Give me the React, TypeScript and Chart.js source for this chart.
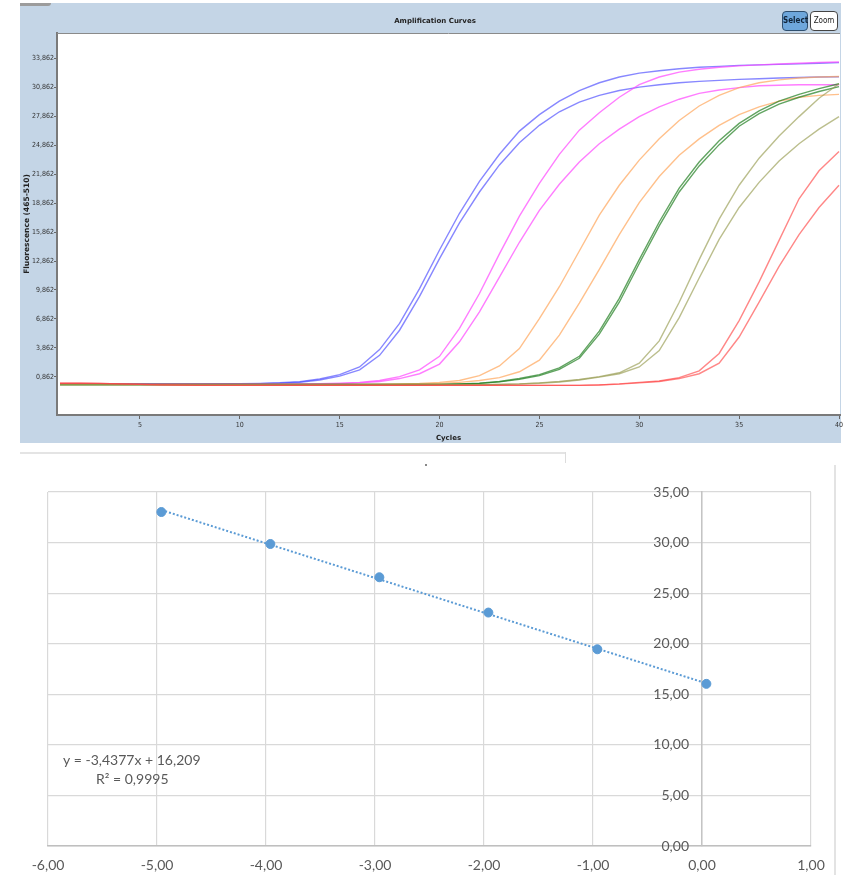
import React, { useEffect, useRef } from 'react';
import { Chart, registerables } from 'chart.js';

Chart.register(...registerables);

// ---------- Amplification curves (top) ----------
const cycles = [1, 2, 3, 4, 5, 6, 7, 8, 9, 10, 11, 12, 13, 14, 15, 16, 17, 18, 19, 20, 21, 22, 23, 24, 25, 26, 27, 28, 29, 30, 31, 32, 33, 34, 35, 36, 37, 38, 39, 40];
const cycleTicks = [5, 10, 15, 20, 25, 30, 35, 40];
const fluoTicks = [0.862, 3.862, 6.862, 9.862, 12.862, 15.862, 18.862, 21.862, 24.862, 27.862, 30.862, 33.862];
const fluoTickLabels = ['0,862', '3,862', '6,862', '9,862', '12,862', '15,862', '18,862', '21,862', '24,862', '27,862', '30,862', '33,862'];

const blue1 = [0.15, 0.15, 0.15, 0.15, 0.15, 0.15, 0.15, 0.15, 0.16, 0.17, 0.2, 0.26, 0.37, 0.65, 1.1, 1.9, 3.7, 6.4, 10.0, 14.0, 17.8, 21.1, 23.9, 26.3, 28.0, 29.4, 30.5, 31.3, 31.9, 32.3, 32.55, 32.75, 32.9, 33.0, 33.1, 33.15, 33.2, 33.26, 33.32, 33.38];
const blue2 = [0.14, 0.14, 0.14, 0.14, 0.14, 0.14, 0.14, 0.14, 0.15, 0.16, 0.18, 0.23, 0.32, 0.55, 0.95, 1.6, 3.1, 5.7, 9.2, 13.1, 16.8, 20.0, 22.8, 25.1, 26.9, 28.3, 29.3, 30.0, 30.5, 30.85, 31.1, 31.3, 31.45, 31.55, 31.65, 31.72, 31.8, 31.85, 31.9, 31.93];
const magenta1 = [0.12, 0.12, 0.12, 0.12, 0.12, 0.12, 0.12, 0.12, 0.12, 0.12, 0.12, 0.12, 0.14, 0.17, 0.22, 0.3, 0.5, 0.9, 1.6, 3.0, 5.9, 9.5, 13.6, 17.5, 20.9, 23.9, 26.4, 28.2, 29.8, 31.1, 31.9, 32.4, 32.7, 32.9, 33.05, 33.15, 33.25, 33.32, 33.4, 33.45];
const magenta2 = [0.12, 0.12, 0.12, 0.12, 0.12, 0.12, 0.12, 0.12, 0.12, 0.12, 0.12, 0.12, 0.12, 0.14, 0.18, 0.25, 0.4, 0.7, 1.2, 2.2, 4.5, 7.6, 11.2, 14.8, 18.1, 20.8, 23.1, 25.0, 26.5, 27.8, 28.8, 29.6, 30.2, 30.55, 30.8, 31.0, 31.05, 31.1, 31.1, 31.1];
const orange1 = [0.1, 0.1, 0.1, 0.1, 0.1, 0.1, 0.1, 0.1, 0.1, 0.1, 0.1, 0.1, 0.1, 0.1, 0.1, 0.1, 0.12, 0.15, 0.2, 0.3, 0.5, 1.0, 2.0, 3.8, 6.9, 10.2, 13.9, 17.6, 20.7, 23.3, 25.5, 27.4, 28.9, 30.0, 30.8, 31.3, 31.6, 31.8, 31.9, 31.95];
const orange2 = [0.1, 0.1, 0.1, 0.1, 0.1, 0.1, 0.1, 0.1, 0.1, 0.1, 0.1, 0.1, 0.1, 0.1, 0.1, 0.1, 0.1, 0.12, 0.15, 0.2, 0.3, 0.5, 0.8, 1.4, 2.6, 5.2, 8.5, 12.0, 15.6, 18.9, 21.6, 23.8, 25.5, 26.9, 28.0, 28.8, 29.4, 29.8, 30.0, 30.1];
const green1 = [0.08, 0.08, 0.08, 0.08, 0.08, 0.08, 0.08, 0.08, 0.08, 0.08, 0.08, 0.08, 0.08, 0.08, 0.08, 0.08, 0.08, 0.08, 0.08, 0.1, 0.14, 0.22, 0.4, 0.7, 1.1, 1.8, 3.0, 5.6, 9.0, 13.0, 16.9, 20.4, 23.1, 25.3, 27.1, 28.4, 29.4, 30.1, 30.7, 31.2];
const green2 = [0.08, 0.08, 0.08, 0.08, 0.08, 0.08, 0.08, 0.08, 0.08, 0.08, 0.08, 0.08, 0.08, 0.08, 0.08, 0.08, 0.08, 0.08, 0.08, 0.1, 0.13, 0.2, 0.36, 0.62, 1.0, 1.65, 2.8, 5.3, 8.6, 12.6, 16.5, 20.0, 22.7, 24.9, 26.8, 28.1, 29.1, 29.8, 30.4, 30.9];
const olive1 = [0.06, 0.06, 0.06, 0.06, 0.06, 0.06, 0.06, 0.06, 0.06, 0.06, 0.06, 0.06, 0.06, 0.06, 0.06, 0.06, 0.06, 0.06, 0.06, 0.06, 0.06, 0.06, 0.1, 0.15, 0.25, 0.4, 0.6, 0.9, 1.3, 2.3, 4.6, 8.6, 13.0, 17.2, 20.7, 23.5, 25.8, 27.8, 29.7, 31.2];
const olive2 = [0.06, 0.06, 0.06, 0.06, 0.06, 0.06, 0.06, 0.06, 0.06, 0.06, 0.06, 0.06, 0.06, 0.06, 0.06, 0.06, 0.06, 0.06, 0.06, 0.06, 0.06, 0.06, 0.09, 0.13, 0.22, 0.35, 0.55, 0.85, 1.2, 1.9, 3.6, 7.0, 11.1, 15.1, 18.4, 21.0, 23.2, 25.0, 26.5, 27.8];
const red1 = [0.22, 0.22, 0.2, 0.15, 0.1, 0.05, 0.02, 0.0, 0.0, 0.0, 0.0, 0.0, 0.0, 0.0, 0.0, 0.0, 0.0, 0.0, 0.0, 0.0, 0.0, 0.0, 0.0, 0.0, 0.0, 0.0, 0.0, 0.05, 0.15, 0.3, 0.45, 0.8, 1.5, 3.3, 6.7, 10.7, 15.0, 19.3, 22.2, 24.2];
const red2 = [0.22, 0.22, 0.2, 0.15, 0.1, 0.05, 0.02, 0.0, 0.0, 0.0, 0.0, 0.0, 0.0, 0.0, 0.0, 0.0, 0.0, 0.0, 0.0, 0.0, 0.0, 0.0, 0.0, 0.0, 0.0, 0.0, 0.0, 0.04, 0.12, 0.25, 0.4, 0.7, 1.2, 2.3, 5.0, 8.6, 12.3, 15.6, 18.4, 20.7];

const curveNames = ['Blue 1', 'Blue 2', 'Magenta 1', 'Magenta 2', 'Orange 1', 'Orange 2', 'Green 1', 'Green 2', 'Olive 1', 'Olive 2', 'Red 1', 'Red 2'];
const curveValues = [blue1, blue2, magenta1, magenta2, orange1, orange2, green1, green2, olive1, olive2, red1, red2];
const curveColors = [
  'rgba(70,70,255,0.65)', 'rgba(70,70,255,0.65)',
  'rgba(255,70,255,0.7)', 'rgba(255,70,255,0.7)',
  'rgba(255,165,90,0.7)', 'rgba(255,165,90,0.7)',
  'rgba(30,125,30,0.7)', 'rgba(30,125,30,0.7)',
  'rgba(150,155,80,0.65)', 'rgba(150,155,80,0.65)',
  'rgba(255,70,70,0.65)', 'rgba(255,70,70,0.65)',
];

// ---------- Standard curve (bottom) ----------
const logDilution = [-4.96, -3.96, -2.96, -1.96, -0.96, 0.04];
const ctValues = [33.02, 29.86, 26.57, 23.08, 19.45, 16.03];
const trendX = [-4.96, 0.04];
const trendY = [33.22, 16.08];
const stdXTicks = [-6, -5, -4, -3, -2, -1, 0, 1];
const stdXLabels = ['-6,00', '-5,00', '-4,00', '-3,00', '-2,00', '-1,00', '0,00', '1,00'];
const stdYTicks = [0, 5, 10, 15, 20, 25, 30, 35];
const stdYLabels = ['0,00', '5,00', '10,00', '15,00', '20,00', '25,00', '30,00', '35,00'];
const equationText = 'y = -3,4377x + 16,209';
const r2Text = 'R² = 0,9995';

const NARROW = "'Liberation Sans Narrow', 'DejaVu Sans Condensed', 'Liberation Sans', sans-serif";
const BOLD = "'DejaVu Sans', 'Liberation Sans', sans-serif";
const EXCEL = "Lato, 'Open Sans', sans-serif";

export default function App() {
  const topRef = useRef<HTMLCanvasElement>(null);
  const botRef = useRef<HTMLCanvasElement>(null);

  useEffect(() => {
    document.body.style.margin = '0';

    const plotBg = {
      id: 'plotBg',
      beforeDraw(chart: any) {
        const { ctx, chartArea: a } = chart;
        ctx.save();
        ctx.fillStyle = '#ffffff';
        ctx.fillRect(a.left, a.top, a.right - a.left, a.bottom - a.top);
        ctx.restore();
      },
      afterDraw(chart: any) {
        const { ctx, chartArea: a } = chart;
        ctx.save();
        ctx.strokeStyle = '#8a8a8a';
        ctx.lineWidth = 1;
        ctx.beginPath();
        ctx.moveTo(a.left, a.top + 0.5);
        ctx.lineTo(a.right, a.top + 0.5);
        ctx.stroke();
        ctx.restore();
      },
    };

    const datasets = curveValues.map((vals, i) => ({
      label: curveNames[i],
      data: cycles.map((c, j) => ({ x: c, y: vals[j] })),
      borderColor: curveColors[i],
      backgroundColor: curveColors[i],
      borderWidth: 1.4,
      pointRadius: 0,
      tension: 0,
      fill: false,
    })).reverse();

    const top = new Chart(topRef.current as HTMLCanvasElement, {
      type: 'line',
      data: { datasets },
      options: {
        animation: false,
        responsive: false,
        layout: { padding: { left: 0, right: 6, top: 33, bottom: 0 } },
        plugins: { legend: { display: false }, tooltip: { enabled: false } },
        scales: {
          x: {
            type: 'linear',
            min: 0.85,
            max: 40.05,
            afterBuildTicks: (s: any) => { s.ticks = cycleTicks.map((v) => ({ value: v })); },
            afterFit: (s: any) => { s.height = 30; },
            grid: { drawOnChartArea: false, tickLength: 4, color: '#666' },
            border: { color: '#7a7a7a', width: 2 },
            ticks: { color: '#333', font: { family: NARROW, size: 7 }, padding: 2, maxRotation: 0, autoSkip: false },
            title: { display: true, text: 'Cycles', color: '#222', font: { family: BOLD, size: 7, weight: 'bold' }, padding: { top: 0, bottom: 3 } },
          },
          y: {
            type: 'linear',
            min: -3.07,
            max: 36.45,
            afterBuildTicks: (s: any) => { s.ticks = fluoTicks.map((v) => ({ value: v })); },
            afterFit: (s: any) => { s.width = 57; },
            grid: { drawOnChartArea: false, tickLength: 3, color: '#666' },
            border: { color: '#7a7a7a', width: 2 },
            ticks: {
              color: '#333', font: { family: NARROW, size: 7 }, padding: 0, autoSkip: false,
              callback: (_v: any, i: number) => fluoTickLabels[i],
            },
            title: { display: true, text: 'Fluorescence (465-510)', color: '#222', font: { family: BOLD, size: 7.5, weight: 'bold' }, padding: { top: 23, bottom: 0 } },
          },
        },
      } as any,
      plugins: [plotBg],
    });

    const stdPlugin = {
      id: 'stdText',
      afterDraw(chart: any) {
        const { ctx } = chart;
        const xs = chart.scales.x;
        const ys = chart.scales.y;
        ctx.save();
        ctx.fillStyle = '#595959';
        ctx.font = `14px ${EXCEL}`;
        ctx.textBaseline = 'middle';
        ctx.textAlign = 'right';
        const axisX = xs.getPixelForValue(0);
        stdYTicks.forEach((v, i) => {
          ctx.fillText(stdYLabels[i], axisX - 13, ys.getPixelForValue(v));
        });
        ctx.textAlign = 'left';
        ctx.fillText(equationText, 63, 300);
        ctx.fillText(r2Text, 96, 319);
        ctx.restore();
      },
    };

    const bot = new Chart(botRef.current as HTMLCanvasElement, {
      type: 'scatter',
      data: {
        datasets: [
          {
            label: 'Ct',
            data: logDilution.map((x, i) => ({ x, y: ctValues[i] })),
            backgroundColor: '#5b9bd5',
            borderColor: '#5b9bd5',
            pointRadius: 4.5,
            showLine: false,
          },
          {
            label: 'Trend',
            data: trendX.map((x, i) => ({ x, y: trendY[i] })),
            borderColor: '#5b9bd5',
            borderWidth: 2,
            borderDash: [2, 2],
            pointRadius: 0,
            showLine: true,
            fill: false,
          },
        ],
      },
      options: {
        animation: false,
        responsive: false,
        layout: { padding: { left: 48, right: 35, top: 32, bottom: 0 } },
        plugins: { legend: { display: false }, tooltip: { enabled: false } },
        scales: {
          x: {
            type: 'linear',
            min: -6,
            max: 1,
            afterBuildTicks: (s: any) => { s.ticks = stdXTicks.map((v) => ({ value: v })); },
            afterFit: (s: any) => { s.height = 29; },
            grid: { color: '#d9d9d9', lineWidth: 1.2, drawTicks: false },
            border: { color: '#bfbfbf', width: 1.5 },
            ticks: { color: '#595959', font: { family: EXCEL, size: 14 }, padding: 11, maxRotation: 0, autoSkip: false, callback: (_v: any, i: number) => stdXLabels[i] },
          },
          y: {
            type: 'linear',
            position: { x: 0 },
            min: 0,
            max: 35,
            afterBuildTicks: (s: any) => { s.ticks = stdYTicks.map((v) => ({ value: v })); },
            grid: { color: '#d9d9d9', lineWidth: 1.2, drawTicks: false },
            border: { color: '#c4c4c4', width: 1.5 },
            ticks: { display: false },
          },
        },
      } as any,
      plugins: [stdPlugin],
    });

    return () => { top.destroy(); bot.destroy(); };
  }, []);

  return (
    <div style={{ position: 'absolute', left: 0, top: 0, width: 846, height: 875, overflow: 'hidden', background: '#ffffff' }}>
      <div style={{ position: 'absolute', left: 20, top: 3, width: 821, height: 440, background: '#c4d5e6' }} />
      <div style={{ position: 'absolute', left: 20, top: 3, width: 31, height: 3, background: '#9c9c9c', borderBottomRightRadius: 3 }} />
      <canvas ref={topRef} width={846} height={445} style={{ position: 'absolute', left: 0, top: 0, width: 846, height: 445 }} />
      <div style={{ position: 'absolute', left: 375, top: 17, width: 120, textAlign: 'center', font: `bold 7px ${BOLD}`, color: '#222' }}>Amplification Curves</div>
      <div style={{ position: 'absolute', left: 782, top: 11, width: 24, height: 18, background: '#6ea7dc', border: '1px solid #2f4f6f', borderRadius: 4, font: `bold 8px ${NARROW}`, color: '#10243a', textAlign: 'center', lineHeight: '18px' }}>Select</div>
      <div style={{ position: 'absolute', left: 810, top: 11, width: 26, height: 18, background: '#ffffff', border: '1px solid #444', borderRadius: 4, font: `8px ${NARROW}`, color: '#222', textAlign: 'center', lineHeight: '18px' }}>Zoom</div>
      <div style={{ position: 'absolute', left: 20, top: 452, width: 546, height: 2, background: '#e4e4e4' }} />
      <div style={{ position: 'absolute', left: 565, top: 452, width: 1, height: 11, background: '#dcdcdc' }} />
      <div style={{ position: 'absolute', left: 425, top: 464, width: 2, height: 2, background: '#888' }} />
      <canvas ref={botRef} width={846} height={415} style={{ position: 'absolute', left: 0, top: 460, width: 846, height: 415 }} />
      <div style={{ position: 'absolute', left: 834, top: 465, width: 2, height: 410, background: '#e3e3e3' }} />
    </div>
  );
}
